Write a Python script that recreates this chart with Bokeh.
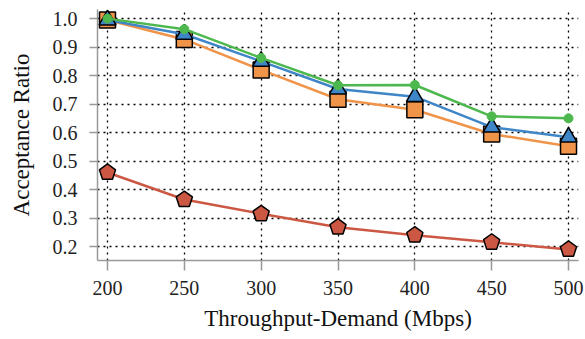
from bokeh.plotting import figure
from bokeh.embed import file_html
from bokeh.resources import INLINE
from bokeh.models import FixedTicker, Range1d, CustomJSTickFormatter

demand = [200, 250, 300, 350, 400, 450, 500]
green_vals = [1.0, 0.963, 0.862, 0.766, 0.767, 0.657, 0.650]
blue_vals = [0.995, 0.945, 0.850, 0.753, 0.726, 0.619, 0.584]
orange_vals = [0.995, 0.927, 0.820, 0.717, 0.680, 0.595, 0.552]
red_vals = [0.460, 0.365, 0.315, 0.268, 0.240, 0.215, 0.190]
x_ticks = [200, 250, 300, 350, 400, 450, 500]
y_ticks = [0.2, 0.3, 0.4, 0.5, 0.6, 0.7, 0.8, 0.9, 1.0]

GREEN = "#4db84d"
BLUE = "#3f86c8"
ORANGE = "#f0944a"
RED = "#cc5844"
FONT = "Liberation Serif"

p = figure(frame_width=481, frame_height=251, output_backend="svg", toolbar_location=None,
           x_range=Range1d(193.5, 506.5), y_range=Range1d(0.151, 1.032),
           min_border_left=97, min_border_right=7, min_border_top=9, min_border_bottom=79)
p.outline_line_color = None
p.background_fill_color = "white"

for ax in (p.xaxis[0], p.yaxis[0]):
    ax.axis_line_color = "#999999"
    ax.axis_line_width = 1.5
    ax.major_tick_line_color = "#999999"
    ax.major_tick_line_width = 1.5
    ax.major_tick_in = 0
    ax.major_tick_out = 10
    ax.minor_tick_line_color = None
    ax.major_label_text_font = FONT
    ax.major_label_text_font_size = "20px"
    ax.major_label_text_color = "#222222"
    ax.axis_label_text_font = FONT
    ax.axis_label_text_font_size = "23px"
    ax.axis_label_text_font_style = "normal"
    ax.axis_label_text_color = "#111111"

p.xaxis[0].ticker = FixedTicker(ticks=x_ticks)
p.yaxis[0].ticker = FixedTicker(ticks=y_ticks)
p.yaxis[0].formatter = CustomJSTickFormatter(code="return tick.toFixed(1);")
p.yaxis[0].major_tick_out = 8
p.yaxis[0].major_label_standoff = 12
p.yaxis[0].axis_label_standoff = 16
p.xaxis[0].major_label_standoff = 10
p.xaxis[0].axis_label_standoff = 8
p.xaxis[0].axis_label = "Throughput-Demand (Mbps)"
p.yaxis[0].axis_label = "Acceptance Ratio"

for g in (p.xgrid[0], p.ygrid[0]):
    g.grid_line_color = "black"
    g.grid_line_dash = "2 4"
    g.grid_line_width = 1.3

# red pentagons
p.line(demand, red_vals, line_color=RED, line_width=2.5)
p.ngon(demand, red_vals, radius=8.5, radius_units="screen", n=5, angle=0,
       fill_color=RED, line_color="black", line_width=1.5)

# orange squares
p.line(demand, orange_vals, line_color=ORANGE, line_width=2.5)
p.scatter(demand, orange_vals, marker="square", size=16, fill_color=ORANGE,
          line_color="black", line_width=1.5)

# blue triangles
p.line(demand, blue_vals, line_color=BLUE, line_width=2.5)
p.scatter(demand, blue_vals, marker="triangle", size=17, fill_color=BLUE,
          line_color="black", line_width=1.5)

# green circles
p.line(demand, green_vals, line_color=GREEN, line_width=2.5)
p.scatter(demand, green_vals, marker="circle", size=9, fill_color=GREEN,
          line_color=GREEN)

open("out.html", "w").write(file_html(p, INLINE))
